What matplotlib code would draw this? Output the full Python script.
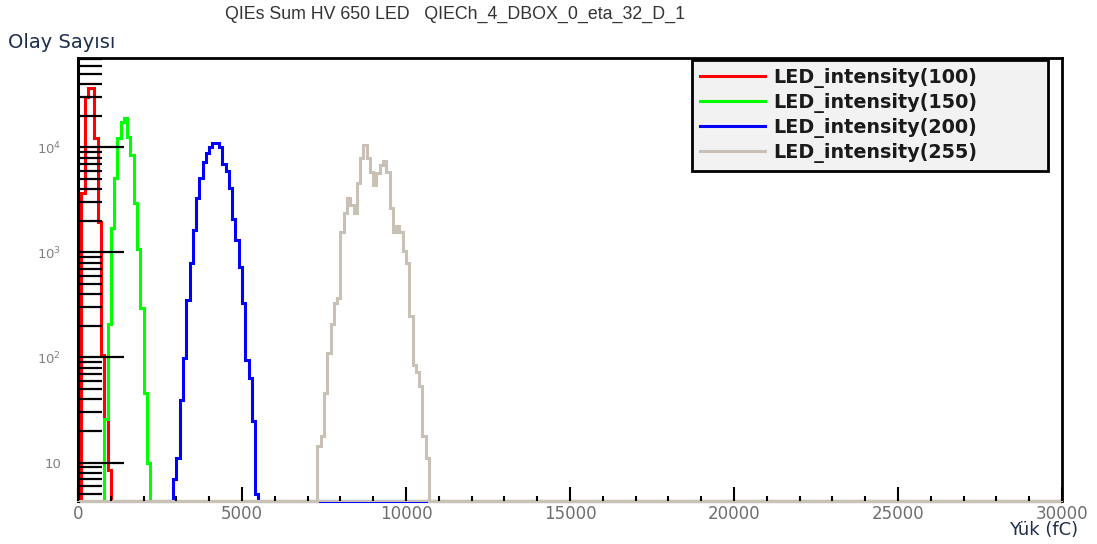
import numpy as np
import matplotlib
matplotlib.use("Agg")
import matplotlib.pyplot as plt
from matplotlib.ticker import LogLocator, MultipleLocator, FuncFormatter, NullFormatter

# charge histograms, 100 fC bins over 0..30000 fC
bin_width = 100
x_max = 30000

red_first = 0
red_counts = [0, 3650, 30000, 37000, 37000, 12400, 1930, 105, 26, 8.4]

green_first = 800
green_counts = [26, 210, 1700, 5150, 12300, 17400, 19000, 12500, 8400, 2950,
                1090, 293, 46, 9.8]

blue_first = 2900
blue_counts = [7, 11, 39, 98, 350, 800, 1620, 3330, 5150, 7200, 8800, 10000,
               11000, 11000, 10000, 7000, 6000, 4150, 2100, 1300, 720, 330,
               94, 64, 25, 5]

gray_first = 7300
gray_counts = [14.5, 18, 46, 110, 210, 330, 365, 1550, 2400, 3330, 2800, 2370,
               4560, 8000, 10500, 7900, 5800, 4350, 5650, 6750, 7500, 5800,
               2650, 1550, 1800, 1550, 1040, 800, 250, 84, 72, 54, 18, 11]

labels = ["LED_intensity(100)", "LED_intensity(150)",
          "LED_intensity(200)", "LED_intensity(255)"]
colors = ["#ff0000", "#00ff00", "#0000ff", "#c9c0b6"]

y_min, y_max = 4.3, 7.1e4

edges = np.arange(0, x_max + bin_width, bin_width)


def full_hist(first, counts):
    h = np.zeros(len(edges) - 1)
    i0 = first // bin_width
    h[i0:i0 + len(counts)] = counts
    # empty bins sit on the lower frame edge like in ROOT
    return np.maximum(h, y_min)


W, H = 1097, 544
fig = plt.figure(figsize=(W / 100, H / 100), dpi=100)
ax = fig.add_axes([78 / W, 1 - 501 / H, 984 / W, 443 / H])

series = [(red_first, red_counts), (green_first, green_counts),
          (blue_first, blue_counts), (gray_first, gray_counts)]
for (first, counts), col, lab in zip(series, colors, labels):
    ax.stairs(full_hist(first, counts), edges, baseline=None, color=col,
              linewidth=2.2, label=lab, clip_on=False)

ax.set_yscale("log")
ax.set_xlim(0, x_max)
ax.set_ylim(y_min, y_max)
ax.set_axisbelow(False)

ax.xaxis.set_major_locator(MultipleLocator(5000))
ax.xaxis.set_minor_locator(MultipleLocator(1000))
ax.yaxis.set_major_locator(LogLocator(base=10))
ax.yaxis.set_minor_locator(LogLocator(base=10, subs=np.arange(2, 10)))
ax.yaxis.set_minor_formatter(NullFormatter())


def ylab(v, pos):
    e = int(round(np.log10(v)))
    return "10" if e == 1 else r"$10^{%d}$" % e


ax.yaxis.set_major_formatter(FuncFormatter(ylab))

ax.tick_params(axis="x", which="major", direction="in", length=10, width=1.5,
               color="black", labelsize=12, labelcolor="#6e6e6e", pad=3)
ax.tick_params(axis="x", which="minor", direction="in", length=3.5, width=1.5,
               color="black")
ax.tick_params(axis="y", which="major", direction="in", length=33, width=1.6,
               color="black", labelsize=9.5, labelcolor="#808080", pad=12)
ax.tick_params(axis="y", which="minor", direction="in", length=17, width=1.6,
               color="black")

for side in ("top", "right", "left"):
    ax.spines[side].set_color("black")
    ax.spines[side].set_linewidth(2)
ax.spines["left"].set_linewidth(2.2)
ax.spines["bottom"].set_color(colors[3])
ax.spines["bottom"].set_linewidth(1.5)

leg = ax.legend(loc="upper left", mode="expand",
                bbox_to_anchor=(692 / W, 1 - 170 / H, 356 / W, 110 / H),
                bbox_transform=fig.transFigure, frameon=True, fancybox=False,
                facecolor="#f2f2f2", edgecolor="black", framealpha=1,
                prop={"family": "DejaVu Sans", "weight": "bold", "size": 13.8},
                handlelength=3.4, handletextpad=0.4, labelspacing=0.26,
                borderpad=0.42, borderaxespad=0)
leg.get_frame().set_linewidth(2)
for t in leg.get_texts():
    t.set_color("#1a1a1a")

fig.text(225 / W, 1 - 14 / H, "QIEs Sum HV 650 LED   QIECh_4_DBOX_0_eta_32_D_1",
         ha="left", va="center", fontsize=12.8, family="Liberation Sans",
         color="#333333")
fig.text(8 / W, 1 - 43 / H, "Olay Sayısı", ha="left", va="center",
         fontsize=14, color="#1f2d4d")
fig.text(1078 / W, 1 - 530 / H, "Yük (fC)", ha="right", va="center",
         fontsize=13, color="#1f2d4d")

fig.savefig("out.png", dpi=100)
